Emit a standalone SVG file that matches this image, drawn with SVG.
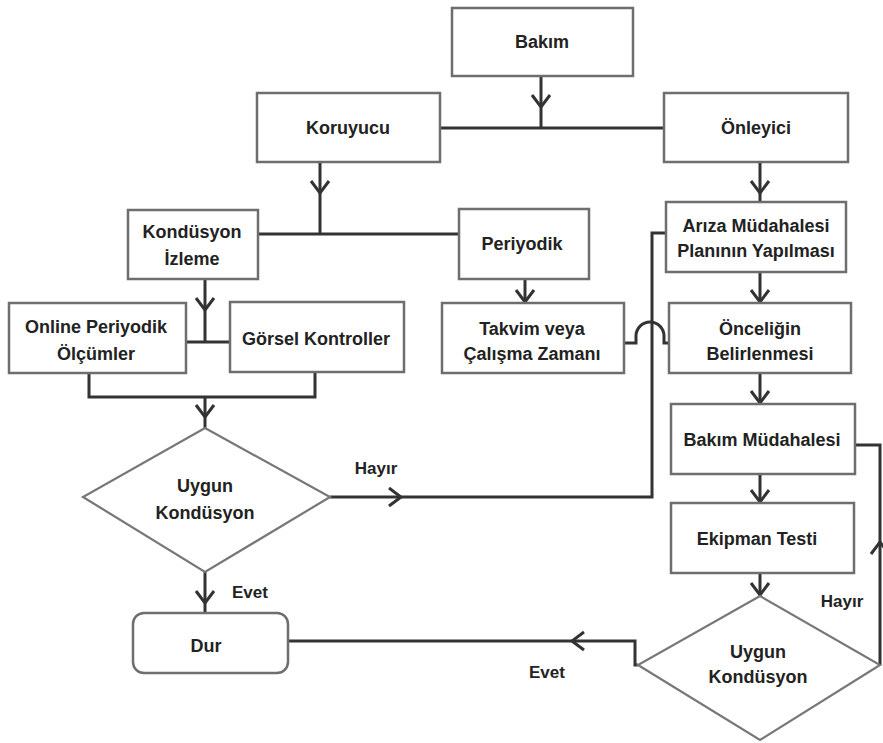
<svg xmlns="http://www.w3.org/2000/svg" width="883" height="743" viewBox="0 0 883 743">
<defs>
<style>
.box{fill:#fff;stroke:#6e6e6e;stroke-width:2.5}
.dia{fill:#fff;stroke:#777;stroke-width:2.2}
.t{font-family:"Liberation Sans",Arial,sans-serif;font-weight:bold;font-size:18px;fill:#222;text-anchor:middle}
.lbl{font-family:"Liberation Sans",Arial,sans-serif;font-weight:bold;font-size:17px;fill:#222;text-anchor:middle}
.c{fill:none;stroke:#333;stroke-width:3}
.a{fill:none;stroke:#333;stroke-width:3;marker-end:url(#chev)}
</style>
<marker id="chev" viewBox="-14 -11 16 22" refX="0" refY="0" markerWidth="16" markerHeight="22" markerUnits="userSpaceOnUse" orient="auto">
<path d="M-12,-9 L0,0 L-12,9" fill="none" stroke="#333" stroke-width="3"/>
</marker>
</defs>
<rect width="883" height="743" fill="#fff"/>
<g id="connectors">
<path class="c" d="M541,76 V128"/>
<path class="c" d="M440,128 H664"/>
<path class="c" d="M320,162 V235"/>
<path class="c" d="M258,234 H460"/>
<path class="c" d="M760,162 V202"/>
<path class="c" d="M760,272 V303"/>
<path class="c" d="M760,373 V404"/>
<path class="c" d="M760,474 V503"/>
<path class="c" d="M760,573 V596"/>
<path class="c" d="M525,279 V303"/>
<path class="c" d="M205,279 V342"/>
<path class="c" d="M186,342 H230"/>
<path class="c" d="M89,373 V397 H315 V372"/>
<path class="c" d="M205,397 V428"/>
<path class="c" d="M330,497 H652 V233 H666"/>
<path class="c" d="M624,343 H636 V336 A14,14 0 0 1 664,336 V343 H669"/>
<path class="c" d="M205,572 V613"/>
<path class="c" d="M638,665 H635 V641 H288"/>
<path class="c" d="M880,665 V445 H855"/>
<path class="a" d="M541,106 V107"/>
<path class="a" d="M320,192 V193"/>
<path class="a" d="M760,192 V193"/>
<path class="a" d="M760,301 V302"/>
<path class="a" d="M760,402 V403"/>
<path class="a" d="M760,501 V502"/>
<path class="a" d="M760,594 V595"/>
<path class="a" d="M525,301 V302"/>
<path class="a" d="M205,309 V310"/>
<path class="a" d="M205,416 V417"/>
<path class="a" d="M400,497 H401"/>
<path class="a" d="M205,602 V603"/>
<path class="a" d="M573,641 H572"/>
<path class="a" d="M880,543 V542"/>
</g>
<g id="bakim"><rect class="box" x="452" y="8" width="181" height="68"/><text class="t" x="542" y="48">Bakım</text></g>
<g id="koruyucu"><rect class="box" x="257" y="93" width="183" height="69"/><text class="t" x="348" y="134">Koruyucu</text></g>
<g id="onleyici"><rect class="box" x="664" y="93" width="184" height="69"/><text class="t" x="756" y="134">Önleyici</text></g>
<g id="kondusyon-izleme"><rect class="box" x="128" y="210" width="130" height="69"/><text class="t" x="192" y="238">Kondüsyon</text><text class="t" x="192" y="265">İzleme</text></g>
<g id="periyodik"><rect class="box" x="459" y="209" width="130" height="70"/><text class="t" x="522" y="250">Periyodik</text></g>
<g id="online"><rect class="box" x="9" y="303" width="177" height="70"/><text class="t" x="96" y="333">Online Periyodik</text><text class="t" x="96" y="360">Ölçümler</text></g>
<g id="gorsel"><rect class="box" x="230" y="302" width="174" height="70"/><text class="t" x="316" y="345">Görsel Kontroller</text></g>
<g id="takvim"><rect class="box" x="442" y="303" width="182" height="70"/><text class="t" x="532" y="335">Takvim veya</text><text class="t" x="532" y="360">Çalışma Zamanı</text></g>
<g id="ariza"><rect class="box" x="666" y="202" width="180" height="70"/><text class="t" x="756" y="232">Arıza Müdahalesi</text><text class="t" x="756" y="257">Planının Yapılması</text></g>
<g id="oncelik"><rect class="box" x="669" y="303" width="182" height="70"/><text class="t" x="760" y="335">Önceliğin</text><text class="t" x="760" y="360">Belirlenmesi</text></g>
<g id="bakim-mudahalesi"><rect class="box" x="671" y="404" width="184" height="70"/><text class="t" x="762" y="446">Bakım Müdahalesi</text></g>
<g id="ekipman"><rect class="box" x="671" y="503" width="183" height="70"/><text class="t" x="757" y="545">Ekipman Testi</text></g>
<g id="uygun1"><polygon class="dia" points="205,428 330,497 205,572 83,497"/><text class="t" x="205" y="492">Uygun</text><text class="t" x="205" y="519">Kondüsyon</text></g>
<g id="uygun2"><polygon class="dia" points="760,596 880,665 760,740 638,665"/><text class="t" x="758" y="658">Uygun</text><text class="t" x="758" y="683">Kondüsyon</text></g>
<g id="dur"><rect class="box" x="133" y="613" width="155" height="60" rx="11"/><text class="t" x="206" y="652">Dur</text></g>
<g id="labels">
<text class="lbl" x="376" y="474">Hayır</text>
<text class="lbl" x="250" y="598">Evet</text>
<text class="lbl" x="547" y="678">Evet</text>
<text class="lbl" x="842" y="607">Hayır</text>
</g>
</svg>
